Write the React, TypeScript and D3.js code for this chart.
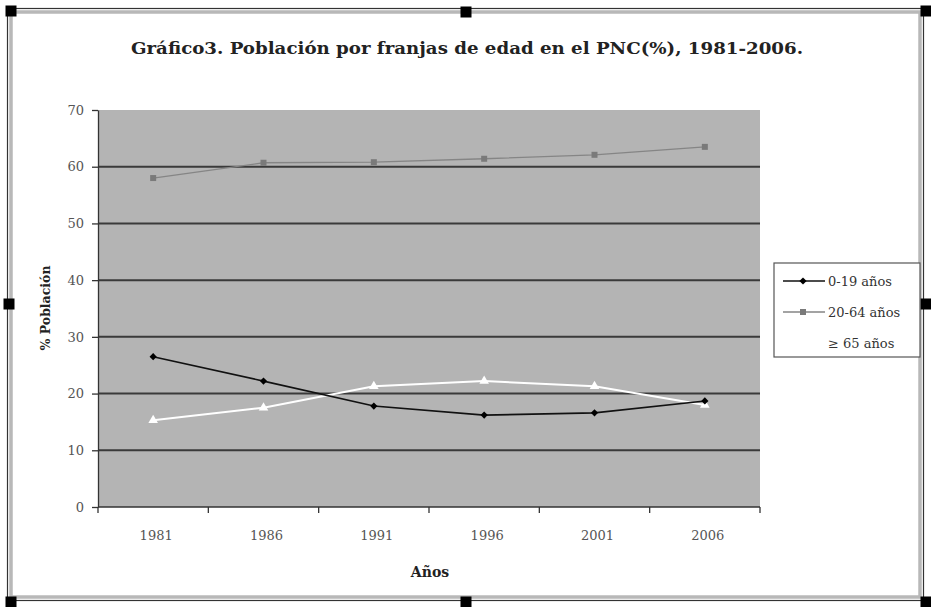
import { useEffect, useRef } from "react";
import * as d3 from "d3";

const years = ["1981", "1986", "1991", "1996", "2001", "2006"];
const young = [26.5, 22.2, 17.8, 16.2, 16.6, 18.7];
const adults = [58.0, 60.7, 60.8, 61.4, 62.1, 63.5];
const elderly = [15.3, 17.5, 21.3, 22.2, 21.3, 18.0];
const yTicks = [0, 10, 20, 30, 40, 50, 60, 70];
const seriesNames = ["0-19 años", "20-64 años", "≥ 65 años"];

const W = 931;
const H = 607;
const serif = "'DejaVu Serif', 'Liberation Serif', serif";

export default function App() {
	const svgRef = useRef<SVGSVGElement>(null);

	useEffect(() => {
		if (!svgRef.current) return;
		const svg = d3.select(svgRef.current);
		svg.selectAll("*").remove();

		const plot = { left: 98, right: 760, top: 110, bottom: 507 };

		svg.append("rect").attr("width", W).attr("height", H).attr("fill", "white");

		// selection frame around the chart object
		svg.append("rect")
			.attr("x", 7.5)
			.attr("y", 8.5)
			.attr("width", 916)
			.attr("height", 592)
			.attr("fill", "none")
			.attr("stroke", "#333")
			.attr("stroke-width", 1.2);
		svg.append("rect")
			.attr("x", 11)
			.attr("y", 12)
			.attr("width", 909)
			.attr("height", 585)
			.attr("fill", "none")
			.attr("stroke", "#b8b8b8")
			.attr("stroke-width", 3.5);

		const handles: [number, number][] = [
			[11, 11], [466, 12], [926, 11],
			[9, 304], [926, 304],
			[11, 602], [466, 602], [926, 602],
		];
		svg.append("g")
			.selectAll("rect")
			.data(handles)
			.join("rect")
			.attr("x", (d) => d[0] - 5.5)
			.attr("y", (d) => d[1] - 5.5)
			.attr("width", 11)
			.attr("height", 11)
			.attr("fill", "#000");

		svg.append("text")
			.attr("x", 467)
			.attr("y", 54)
			.attr("text-anchor", "middle")
			.attr("font-family", serif)
			.attr("font-weight", "bold")
			.attr("font-size", 16)
			.attr("textLength", 672)
			.attr("lengthAdjust", "spacingAndGlyphs")
			.attr("fill", "#222")
			.text("Gráfico3. Población por franjas de edad en el PNC(%), 1981-2006.");

		const x = d3.scaleBand<string>().domain(years).range([plot.left, plot.right]);
		const y = d3.scaleLinear().domain([0, 70]).range([plot.bottom, plot.top]);

		svg.append("rect")
			.attr("x", plot.left)
			.attr("y", plot.top)
			.attr("width", plot.right - plot.left)
			.attr("height", plot.bottom - plot.top)
			.attr("fill", "#b4b4b4");

		svg.append("g")
			.selectAll("line")
			.data(yTicks.filter((t) => t > 0 && t < 70))
			.join("line")
			.attr("x1", plot.left)
			.attr("x2", plot.right)
			.attr("y1", (d) => y(d))
			.attr("y2", (d) => y(d))
			.attr("stroke", "#3a3a3a")
			.attr("stroke-width", 2);

		// y axis
		const yAxis = d3
			.axisLeft(y)
			.tickValues(yTicks)
			.tickSize(6)
			.tickSizeOuter(0)
			.tickPadding(8)
			.tickFormat((d) => String(d));
		svg.append("g")
			.attr("transform", `translate(${plot.left},0)`)
			.call(yAxis)
			.call((g) => g.select(".domain").attr("stroke", "#333").attr("stroke-width", 1.3))
			.call((g) => g.selectAll(".tick line").attr("stroke", "#333").attr("stroke-width", 1.3))
			.call((g) =>
				g
					.selectAll(".tick text")
					.attr("fill", "#555")
					.attr("font-size", "13px")
					.attr("font-family", serif)
			);

		// x axis, ticks between categories
		svg.append("line")
			.attr("x1", plot.left)
			.attr("x2", plot.right)
			.attr("y1", plot.bottom)
			.attr("y2", plot.bottom)
			.attr("stroke", "#333")
			.attr("stroke-width", 1.3);
		const edges = years.map((yr) => x(yr) as number).concat([plot.right]);
		svg.append("g")
			.selectAll("line")
			.data(edges)
			.join("line")
			.attr("x1", (d) => d)
			.attr("x2", (d) => d)
			.attr("y1", plot.bottom)
			.attr("y2", plot.bottom + 6)
			.attr("stroke", "#333")
			.attr("stroke-width", 1.3);
		svg.append("g")
			.selectAll("text")
			.data(years)
			.join("text")
			.attr("x", (d) => (x(d) as number) + x.bandwidth() / 2 + 3)
			.attr("y", plot.bottom + 33)
			.attr("text-anchor", "middle")
			.attr("font-family", serif)
			.attr("font-size", 13)
			.attr("fill", "#555")
			.text((d) => d);

		svg.append("text")
			.attr("x", 430)
			.attr("y", 577)
			.attr("text-anchor", "middle")
			.attr("font-family", serif)
			.attr("font-weight", "bold")
			.attr("font-size", 14)
			.attr("fill", "#222")
			.text("Años");

		svg.append("text")
			.attr("transform", `translate(50,308) rotate(-90)`)
			.attr("text-anchor", "middle")
			.attr("font-family", serif)
			.attr("font-weight", "bold")
			.attr("font-size", 12.5)
			.attr("fill", "#222")
			.text("% Población");

		const cx = (i: number) => (x(years[i]) as number) + x.bandwidth() / 2;
		const line = d3
			.line<number>()
			.x((_, i) => cx(i))
			.y((d) => y(d));

		const series = [
			{ values: adults, stroke: "#858585", width: 1.3, marker: d3.symbolSquare, size: 36, fill: "#7a7a7a", rot: 0 },
			{ values: elderly, stroke: "#ffffff", width: 2, marker: d3.symbolTriangle, size: 40, fill: "#ffffff", rot: 0 },
			{ values: young, stroke: "#111111", width: 1.6, marker: d3.symbolSquare, size: 26, fill: "#000000", rot: 45 },
		];

		series.forEach((s) => {
			svg.append("path")
				.datum(s.values)
				.attr("fill", "none")
				.attr("stroke", s.stroke)
				.attr("stroke-width", s.width)
				.attr("d", line);
			svg.append("g")
				.selectAll("path")
				.data(s.values)
				.join("path")
				.attr("transform", (d, i) => `translate(${cx(i)},${y(d)}) rotate(${s.rot})`)
				.attr("d", d3.symbol(s.marker, s.size)())
				.attr("fill", s.fill);
		});

		// legend
		const legend = svg.append("g");
		legend.append("rect")
			.attr("x", 774)
			.attr("y", 263)
			.attr("width", 146)
			.attr("height", 94)
			.attr("fill", "white")
			.attr("stroke", "#555")
			.attr("stroke-width", 1.2);
		const legendSeries = [series[2], series[0], series[1]];
		legendSeries.forEach((s, i) => {
			const ly = 281 + i * 31;
			legend.append("line")
				.attr("x1", 783)
				.attr("x2", 825)
				.attr("y1", ly)
				.attr("y2", ly)
				.attr("stroke", s.stroke)
				.attr("stroke-width", s.width);
			legend.append("path")
				.attr("transform", `translate(803,${ly}) rotate(${s.rot})`)
				.attr("d", d3.symbol(s.marker, s.size)())
				.attr("fill", s.fill);
			legend.append("text")
				.attr("x", 828)
				.attr("y", ly + 5)
				.attr("font-family", serif)
				.attr("font-size", 13)
				.attr("fill", "#333")
				.text(seriesNames[i]);
		});
	}, []);

	return (
		<div style={{ position: "absolute", left: 0, top: 0 }}>
			<svg ref={svgRef} width={W} height={H} style={{ display: "block" }} />
		</div>
	);
}
